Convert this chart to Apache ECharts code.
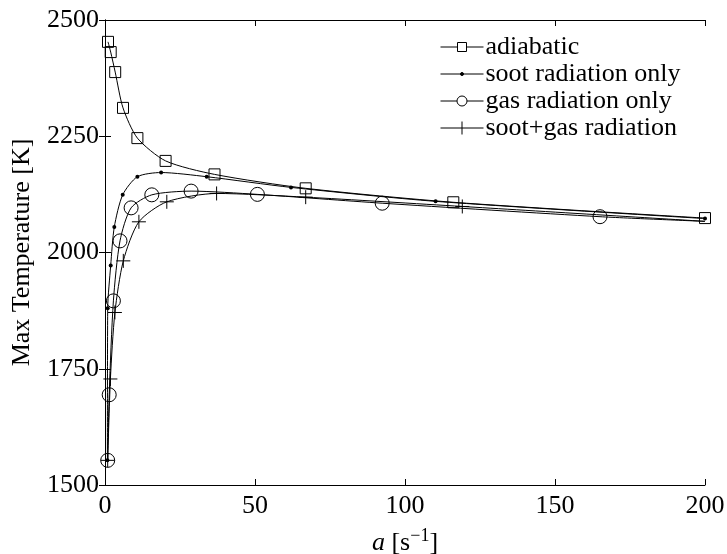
<!DOCTYPE html>
<html>
<head>
<meta charset="utf-8">
<script src="https://cdn.jsdelivr.net/npm/echarts@6/dist/echarts.min.js"></script>
<style>
  html, body { margin: 0; padding: 0; background: #fff; }
  #chart { width: 727px; height: 554px; }
</style>
</head>
<body>
<div id="chart"></div>
<script>
// Peak flame temperature versus strain rate a, for four radiation models
const adiabaticA = [1.0, 1.9, 3.4, 6.0, 10.8, 20.2, 36.5, 66.9, 116.1, 200];
const adiabaticT = [2453, 2431, 2388, 2311, 2246, 2197, 2168, 2138, 2108, 2074];

const sootA = [0.8, 0.9, 1.9, 3.1, 5.9, 10.8, 18.7, 33.9, 62.0, 110.2, 200];
const sootT = [1553, 1880, 1972, 2055, 2124, 2163, 2172, 2163, 2140, 2110, 2073];

const gasA = [0.9, 1.4, 2.8, 5.0, 8.7, 15.6, 28.7, 50.8, 92.4, 165, 200];
const gasT = [1553, 1694, 1896, 2025, 2096, 2124, 2132, 2125, 2106, 2077, 2067];

const sootGasA = [0.9, 1.8, 3.3, 6.1, 11.3, 20.6, 37.2, 66.9, 119.1, 200];
const sootGasT = [1553, 1728, 1871, 1982, 2066, 2109, 2127, 2119, 2099, 2067];

// curve end points drawn without a marker
const gasUnmarked = [200];
const sootGasUnmarked = [200];

const xTicks = [0, 50, 100, 150, 200];
const yTicks = [1500, 1750, 2000, 2250, 2500];

const FONT = "'Liberation Serif', 'Times New Roman', serif";
const PLUS = 'path://M0,5L10,5M5,0L5,10';

// legend keys: a short line with the marker on it (43 x 13 box)
const KEY_SQUARE = 'path://M0,0M43,13M0,6.5L17,6.5M26,6.5L43,6.5M17,2L26,2L26,11L17,11Z';
const KEY_DOT = 'path://M0,0M43,13M0,6.5L43,6.5M20,6.5A1.5,1.5,0,1,0,23,6.5A1.5,1.5,0,1,0,20,6.5Z';
const KEY_CIRCLE = 'path://M0,0M43,13M0,6.5L16.5,6.5M26.5,6.5L43,6.5M16.5,6.5A5,5,0,1,0,26.5,6.5A5,5,0,1,0,16.5,6.5Z';
const KEY_PLUS = 'path://M0,0M43,13M0,6.5L43,6.5M21.5,0L21.5,13';

function pairs(xs, ys, unmarked) {
  return xs.map((x, i) => {
    const item = { value: [x, ys[i]] };
    if (unmarked && unmarked.indexOf(x) >= 0 && i === xs.length - 1) item.symbol = 'none';
    return item;
  });
}

const chart = echarts.init(document.getElementById('chart'), null, { renderer: 'canvas' });

const baseAxisLine = { show: true, lineStyle: { color: '#000', width: 1 } };
const tick = { show: true, inside: true, length: 6, lineStyle: { color: '#000', width: 1 } };
const keyStyle = { color: 'rgba(255,255,255,0)', borderColor: '#000', borderWidth: 1 };

const lineCommon = {
  type: 'line',
  smooth: 0.25,
  lineStyle: { color: '#000', width: 1 },
  emphasis: { disabled: true },
  animation: false,
  z: 3
};

chart.setOption({
  animation: false,
  backgroundColor: '#fff',
  grid: { left: 105, right: 22, top: 20, bottom: 69, containLabel: false, outerBoundsMode: 'none' },
  legend: {
    orient: 'vertical',
    left: 435,
    top: 29,
    itemWidth: 43,
    itemHeight: 13,
    itemGap: 1,
    textStyle: { fontFamily: FONT, fontSize: 26, color: '#000', padding: [0, 0, 0, -3] },
    selectedMode: false,
    data: [
      { name: 'adiabatic', icon: KEY_SQUARE, itemStyle: keyStyle },
      { name: 'soot radiation only', icon: KEY_DOT, itemStyle: { color: '#000', borderColor: '#000', borderWidth: 1 } },
      { name: 'gas radiation only', icon: KEY_CIRCLE, itemStyle: keyStyle },
      { name: 'soot+gas radiation', icon: KEY_PLUS, itemStyle: keyStyle }
    ]
  },
  xAxis: [
    {
      type: 'value', min: 0, max: 200, interval: 50,
      axisLine: baseAxisLine, axisTick: tick, splitLine: { show: false },
      axisLabel: {
        fontFamily: FONT, fontSize: 26, color: '#000', margin: 8,
        formatter: v => (xTicks.indexOf(v) >= 0 ? String(v) : '')
      },
      name: '{i|a} [s{sup|−1}]',
      nameLocation: 'middle',
      nameGap: 42,
      nameTextStyle: {
        fontFamily: FONT, fontSize: 26, color: '#000',
        rich: {
          i: { fontFamily: FONT, fontSize: 26, fontStyle: 'italic', color: '#000' },
          sup: { fontFamily: FONT, fontSize: 18, color: '#000', padding: [0, 0, 14, 0] }
        }
      }
    },
    {
      type: 'value', position: 'top', min: 0, max: 200, interval: 50,
      axisLine: baseAxisLine, axisTick: tick, axisLabel: { show: false }, splitLine: { show: false }
    }
  ],
  yAxis: [
    {
      type: 'value', min: 1500, max: 2500, interval: 250,
      axisLine: baseAxisLine, axisTick: tick, splitLine: { show: false },
      axisLabel: {
        fontFamily: FONT, fontSize: 26, color: '#000', margin: 6,
        formatter: v => (yTicks.indexOf(v) >= 0 ? String(v) : '')
      },
      name: 'Max Temperature [K]',
      nameLocation: 'middle',
      nameGap: 70,
      nameRotate: 90,
      nameTextStyle: { fontFamily: FONT, fontSize: 26, color: '#000' }
    },
    {
      type: 'value', position: 'right', min: 1500, max: 2500, interval: 250,
      axisLine: baseAxisLine, axisTick: tick, axisLabel: { show: false }, splitLine: { show: false }
    }
  ],
  series: [
    Object.assign({}, lineCommon, {
      name: 'adiabatic',
      data: pairs(adiabaticA, adiabaticT),
      symbol: 'rect', symbolSize: 11,
      itemStyle: { color: 'rgba(255,255,255,0)', borderColor: '#000', borderWidth: 1 }
    }),
    Object.assign({}, lineCommon, {
      name: 'soot radiation only',
      data: pairs(sootA, sootT),
      symbol: 'circle', symbolSize: 4,
      itemStyle: { color: '#000', borderColor: '#000', borderWidth: 0 }
    }),
    Object.assign({}, lineCommon, {
      name: 'gas radiation only',
      data: pairs(gasA, gasT, gasUnmarked),
      symbol: 'circle', symbolSize: 14,
      itemStyle: { color: 'rgba(255,255,255,0)', borderColor: '#000', borderWidth: 1 }
    }),
    Object.assign({}, lineCommon, {
      name: 'soot+gas radiation',
      data: pairs(sootGasA, sootGasT, sootGasUnmarked),
      symbol: PLUS, symbolSize: 14,
      itemStyle: { color: 'rgba(255,255,255,0)', borderColor: '#000', borderWidth: 1 }
    })
  ]
});
</script>
</body>
</html>
